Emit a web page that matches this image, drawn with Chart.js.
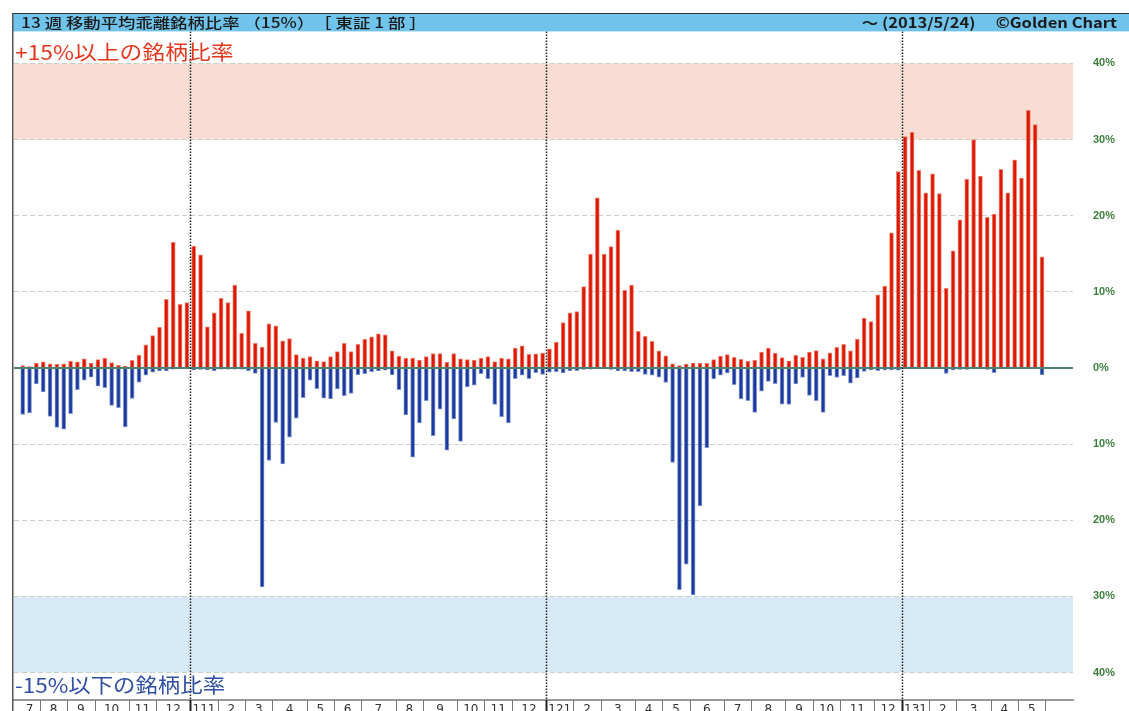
<!DOCTYPE html>
<html>
<head>
<meta charset="utf-8">
<script src="https://cdn.jsdelivr.net/npm/chart.js@4"></script>
<style>
html,body{margin:0;padding:0;background:#fff;}
canvas{display:block;}
</style>
</head>
<body>
<canvas id="c" width="1129" height="711"></canvas>
<script>
// ---- data ----
const firstWeekUTC = Date.UTC(2010, 6, 16);   // week ending 2010/7/16
const weekCount = 150;                          // through 2013/5/24

// share of stocks more than +15% above their 13-week moving average (%)
const aboveShare = [
  0.3, 0.2, 0.65, 0.8, 0.55, 0.5, 0.55, 0.9, 0.8, 1.2,
  0.65, 1.1, 1.3, 0.7, 0.35, 0.25, 1.0, 1.7, 3.05, 4.25,
  5.35, 9.0, 16.5, 8.35, 8.6, 16.0, 14.85, 5.4, 7.25, 9.15,
  8.6, 10.9, 4.55, 7.5, 3.25, 2.75, 5.8, 5.55, 3.55, 3.85,
  1.75, 1.3, 1.5, 0.95, 0.85, 1.5, 2.15, 3.25, 2.15, 3.1,
  3.75, 4.1, 4.5, 4.35, 2.25, 1.55, 1.3, 1.3, 1.05, 1.5,
  1.9, 1.9, 0.75, 1.9, 1.2, 1.1, 1.05, 1.3, 1.5, 0.85,
  1.3, 1.2, 2.6, 2.9, 1.8, 1.85, 1.95, 2.5, 3.4, 5.95,
  7.25, 7.4, 10.7, 14.95, 22.35, 14.95, 15.95, 18.1, 10.2, 10.9,
  4.8, 4.15, 3.5, 2.25, 1.6, 0.55, 0.3, 0.5, 0.65, 0.65,
  0.6, 1.1, 1.55, 1.75, 1.4, 1.15, 0.9, 1.05, 2.1, 2.6,
  1.95, 1.35, 0.95, 1.65, 1.4, 2.1, 2.3, 1.2, 2.0, 2.7,
  3.1, 2.25, 3.8, 6.55, 6.1, 9.6, 10.75, 17.75, 25.8, 30.4,
  30.95, 25.95, 23.0, 25.5, 22.9, 10.45, 15.4, 19.45, 24.8, 30.0,
  25.2, 19.8, 20.2, 26.1, 23.0, 27.35, 24.95, 33.85, 31.95, 14.6
];

// share of stocks more than -15% below their 13-week moving average (%), drawn downward
const belowShare = [
  -6.1, -5.9, -2.1, -3.15, -6.35, -7.8, -8.05, -6.0, -2.85, -1.6,
  -1.2, -2.4, -2.6, -4.9, -5.2, -7.75, -4.0, -1.85, -0.95, -0.55,
  -0.4, -0.4, -0.15, -0.1, -0.1, -0.25, -0.2, -0.25, -0.4, -0.15,
  -0.15, -0.15, -0.15, -0.4, -0.7, -28.75, -12.15, -7.15, -12.6, -9.1,
  -6.6, -3.9, -1.6, -2.7, -3.95, -4.05, -2.75, -3.65, -3.35, -0.9,
  -0.75, -0.5, -0.4, -0.3, -0.9, -2.85, -6.15, -11.7, -7.2, -4.3,
  -8.9, -5.4, -10.8, -6.7, -9.65, -2.5, -2.25, -0.75, -1.4, -4.8,
  -6.4, -7.2, -1.4, -0.95, -1.4, -0.6, -0.85, -0.55, -0.5, -0.65,
  -0.35, -0.35, -0.2, -0.15, -0.1, -0.1, -0.2, -0.4, -0.4, -0.5,
  -0.5, -0.85, -0.95, -1.2, -1.9, -12.4, -29.1, -25.75, -29.8, -18.1,
  -10.45, -1.45, -0.95, -0.65, -2.2, -4.05, -4.3, -5.85, -3.05, -1.75,
  -2.05, -4.75, -4.8, -2.1, -1.25, -3.6, -4.3, -5.85, -1.0, -1.25,
  -1.0, -2.0, -1.3, -0.45, -0.25, -0.35, -0.25, -0.25, -0.3, -0.05,
  -0.05, -0.05, -0.05, -0.05, -0.05, -0.7, -0.25, -0.2, -0.2, -0.05,
  -0.05, -0.2, -0.6, -0.05, -0.05, -0.05, -0.05, -0.05, -0.05, -0.9
];

const yTickValues = [-40, -30, -20, -10, 0, 10, 20, 30, 40];
const titleLeft = '13 週 移動平均乖離銘柄比率 （15%）　［ 東証 1 部 ］';
const titleRight = '〜 (2013/5/24)　 ©Golden Chart';
const upperBandLabel = '+15%以上の銘柄比率';
const lowerBandLabel = '-15%以下の銘柄比率';

// ---- derived categories (week dates, month groups) ----
const weekDates = [];
for (let i = 0; i < weekCount; i++) weekDates.push(new Date(firstWeekUTC + i * 7 * 86400000));

const monthGroups = [];
weekDates.forEach((d, i) => {
  const m = d.getUTCMonth(), yr = d.getUTCFullYear();
  const last = monthGroups[monthGroups.length - 1];
  if (!last || last.month !== m) monthGroups.push({ month: m, year: yr, start: i, end: i });
  else last.end = i;
});
const monthLabels = monthGroups.map(g => g.month === 0 ? String(g.year % 100) + '1' : String(g.month + 1));

const aboveData = aboveShare.map((v, i) => ({ x: i, y: v }));
const belowData = belowShare.map((v, i) => ({ x: i, y: v }));

function stretchedText(ctx, text, x, y, sx, align) {
  ctx.save();
  ctx.translate(x, y);
  ctx.scale(sx, 1);
  ctx.textAlign = align;
  ctx.fillText(text, 0, 0);
  ctx.restore();
}

// ---- decorations ----
const deco = {
  id: 'deco',
  beforeDraw(chart) {
    const { ctx, chartArea: a, scales: { y } } = chart;
    ctx.save();
    ctx.fillStyle = '#f9ddd3';
    const y40 = y.getPixelForValue(40), y30 = y.getPixelForValue(30);
    ctx.fillRect(a.left, y40, a.right - a.left, y30 - y40);
    ctx.fillStyle = '#d6eaf8';
    const yn30 = y.getPixelForValue(-30), yn40 = y.getPixelForValue(-40);
    ctx.fillRect(a.left, yn30, a.right - a.left, yn40 - yn30);
    ctx.restore();
  },
  afterDatasetsDraw(chart) {
    const { ctx, chartArea: a, scales: { x, y } } = chart;
    ctx.save();
    // zero line
    const y0 = y.getPixelForValue(0);
    ctx.strokeStyle = '#4f8070';
    ctx.lineWidth = 2;
    ctx.beginPath(); ctx.moveTo(a.left, y0); ctx.lineTo(a.right, y0); ctx.stroke();
    // year boundaries (dotted)
    ctx.strokeStyle = '#222';
    ctx.lineWidth = 1.5;
    ctx.setLineDash([1.5, 1.5]);
    monthGroups.forEach(g => {
      if (g.month === 0 && g.start > 0) {
        const px = Math.round(x.getPixelForValue(g.start - 0.5)) + 0.5;
        ctx.beginPath(); ctx.moveTo(px, a.top); ctx.lineTo(px, a.bottom); ctx.stroke();
      }
    });
    ctx.setLineDash([]);
    // band captions
    ctx.textBaseline = 'middle';
    ctx.font = '20px "Noto Sans CJK JP", "Noto Sans", sans-serif';
    ctx.fillStyle = '#e3381d';
    stretchedText(ctx, upperBandLabel, a.left + 1, y.getPixelForValue(40) - 11, 1.14, 'left');
    ctx.fillStyle = '#2e4fa4';
    stretchedText(ctx, lowerBandLabel, a.left + 1, y.getPixelForValue(-40) + 13, 1.12, 'left');
    ctx.restore();
  },
  afterDraw(chart) {
    const { ctx, chartArea: a, scales: { x }, width, height } = chart;
    ctx.save();
    // month separators in the axis strip
    monthGroups.forEach((g, k) => {
      const isYear = g.month === 0 && g.start > 0;
      const px = Math.round(x.getPixelForValue(g.start - 0.5)) + 0.5;
      if (k > 0) {
        ctx.strokeStyle = isYear ? '#222' : '#777';
        ctx.lineWidth = isYear ? 2 : 1;
        ctx.beginPath(); ctx.moveTo(px, a.bottom); ctx.lineTo(px, height); ctx.stroke();
      }
    });
    const lastG = monthGroups[monthGroups.length - 1];
    const pe = Math.round(x.getPixelForValue(lastG.end + 0.5)) + 0.5;
    ctx.strokeStyle = '#777'; ctx.lineWidth = 1;
    ctx.beginPath(); ctx.moveTo(pe, a.bottom); ctx.lineTo(pe, height); ctx.stroke();

    // header bar
    const hTop = 13, hBot = a.top;
    ctx.fillStyle = '#70c3ea';
    ctx.fillRect(12, hTop, width - 12, hBot - hTop);
    ctx.strokeStyle = '#333';
    ctx.lineWidth = 1;
    ctx.beginPath(); ctx.moveTo(12, hTop + 0.5); ctx.lineTo(width, hTop + 0.5); ctx.stroke();
    // left frame line
    ctx.strokeStyle = '#555';
    ctx.lineWidth = 1.5;
    ctx.beginPath(); ctx.moveTo(12.75, hTop); ctx.lineTo(12.75, height); ctx.stroke();
    // header texts
    ctx.fillStyle = '#1a1a1a';
    ctx.textBaseline = 'middle';
    const cy = (hTop + hBot) / 2 + 0.5;
    ctx.font = '500 14px "Noto Sans CJK JP", "Noto Sans", sans-serif';
    stretchedText(ctx, titleLeft, 21, cy, 1.24, 'left');
    ctx.font = 'bold 14px "Noto Sans CJK JP", "Noto Sans", sans-serif';
    stretchedText(ctx, titleRight, 1117, cy, 1.18, 'right');
    ctx.restore();
  }
};

new Chart(document.getElementById('c'), {
  type: 'bar',
  data: {
    datasets: [
      {
        label: '+15%以上', data: aboveData, grouped: false,
        backgroundColor: '#dc1800', borderColor: 'rgba(236,100,80,0.8)',
        borderWidth: 1, barThickness: 4
      },
      {
        label: '-15%以下', data: belowData, grouped: false,
        backgroundColor: '#1b3a9c', borderColor: 'rgba(100,125,200,0.8)',
        borderWidth: 1, barThickness: 4
      }
    ]
  },
  options: {
    responsive: false,
    animation: false,
    layout: { padding: { left: 14, top: 31.4, right: 0, bottom: 0 } },
    plugins: { legend: { display: false }, tooltip: { enabled: false }, title: { display: false } },
    scales: {
      x: {
        type: 'linear',
        min: -1.27,
        max: 153.53,
        offset: false,
        grid: { display: false, drawTicks: false },
        border: { display: true, color: '#9a9a9a', width: 2 },
        ticks: {
          autoSkip: false, maxRotation: 0, minRotation: 0, padding: 3,
          color: '#333', font: { size: 12, family: '"DejaVu Sans", sans-serif' },
          callback: (v, i) => monthLabels[i]
        },
        afterBuildTicks: s => { s.ticks = monthGroups.map(g => ({ value: (g.start + g.end) / 2 })); },
        afterFit: s => { s.height = 11; s.paddingLeft = 0; s.paddingRight = 0; }
      },
      y: {
        position: 'right',
        min: -43.6,
        max: 44.2,
        grid: {
          drawTicks: false,
          color: c => (c.tick && c.tick.value === 0) ? 'rgba(0,0,0,0)' : '#c9d1c2',
          lineWidth: 1
        },
        border: { display: false, dash: [5, 3] },
        ticks: {
          padding: 20, crossAlign: 'near',
          color: '#3c7f3c', font: { size: 11, weight: 'bold', family: '"Liberation Sans", sans-serif' },
          callback: v => Math.abs(v) + '%'
        },
        afterBuildTicks: s => { s.ticks = yTickValues.map(v => ({ value: v })); },
        afterFit: s => { s.width = 56; s.paddingTop = 0; s.paddingBottom = 0; }
      }
    }
  },
  plugins: [deco]
});
</script>
</body>
</html>
